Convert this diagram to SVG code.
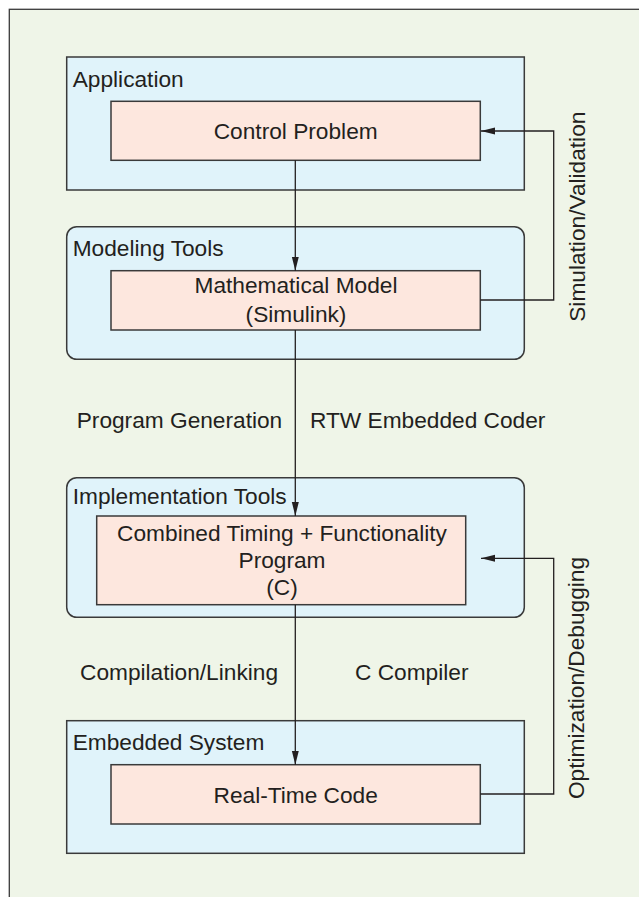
<svg xmlns="http://www.w3.org/2000/svg" width="639" height="897" viewBox="0 0 639 897">
<style>
.frame{fill:#eff5e8;stroke:#3a3a3a;stroke-width:1.3}
.outer{fill:#e0f3fa;stroke:#3a3a3a;stroke-width:1.5}
.inner{fill:#fde7de;stroke:#3a3a3a;stroke-width:1.5}
.t{font-family:"Liberation Sans",Arial,Helvetica,sans-serif;font-size:22.7px;fill:#231f20}
.c{text-anchor:middle}
.conn{fill:none;stroke:#231f20;stroke-width:1.3}
</style>
<defs>
<marker id="ah" markerUnits="userSpaceOnUse" markerWidth="14" markerHeight="8" refX="14" refY="4" orient="auto">
<path d="M0,0.5 L14,4 L0,7.5 z" fill="#231f20"/>
</marker>
</defs>
<rect x="0" y="0" width="639" height="897" fill="#ffffff"/>
<rect class="frame" x="9.3" y="9.3" width="640" height="900"/>

<g id="application">
<rect class="outer" x="66.7" y="57" width="457.6" height="133"/>
<text class="t" x="72.7" y="86.7">Application</text>
</g>
<g id="control-problem">
<rect class="inner" x="111" y="101.3" width="369.3" height="59"/>
<text class="t c" x="295.7" y="139">Control Problem</text>
</g>

<g id="modeling-tools">
<rect class="outer" x="66.7" y="226.7" width="457.6" height="132.6" rx="10" ry="10"/>
<text class="t" x="72.7" y="256">Modeling Tools</text>
</g>
<g id="mathematical-model">
<rect class="inner" x="111" y="270.7" width="369.3" height="59.3"/>
<text class="t c" x="296" y="293.3">Mathematical Model</text>
<text class="t c" x="296" y="321.7">(Simulink)</text>
</g>

<g id="implementation-tools">
<rect class="outer" x="66.7" y="477.7" width="457.6" height="139.6" rx="10" ry="10"/>
<text class="t" x="72.7" y="504">Implementation Tools</text>
</g>
<g id="combined-program">
<rect class="inner" x="96.7" y="516" width="369" height="88.7"/>
<text class="t c" x="282" y="540.7">Combined Timing + Functionality</text>
<text class="t c" x="282" y="568.3">Program</text>
<text class="t c" x="282" y="595">(C)</text>
</g>

<g id="embedded-system">
<rect class="outer" x="66.7" y="720.7" width="457.6" height="132.6"/>
<text class="t" x="72.7" y="750">Embedded System</text>
</g>
<g id="real-time-code">
<rect class="inner" x="111" y="764.7" width="369.3" height="59.3"/>
<text class="t c" x="295.7" y="803.3">Real-Time Code</text>
</g>

<g id="connectors">
<path class="conn" d="M295.3,160.3 V270.7" marker-end="url(#ah)"/>
<path class="conn" d="M295.3,330 V516" marker-end="url(#ah)"/>
<path class="conn" d="M295.3,604.7 V764.7" marker-end="url(#ah)"/>
<path class="conn" d="M480.3,300 H553.7 V131 H481" marker-end="url(#ah)"/>
<path class="conn" d="M480.3,794 H553.7 V558.3 H481" marker-end="url(#ah)"/>
</g>

<g id="labels">
<text class="t" x="76.7" y="428.3">Program Generation</text>
<text class="t" x="310" y="428.3">RTW Embedded Coder</text>
<text class="t" x="80" y="680">Compilation/Linking</text>
<text class="t" x="355" y="680">C Compiler</text>
<text class="t c" transform="translate(585,216.7) rotate(-90)">Simulation/Validation</text>
<text class="t c" transform="translate(584,678) rotate(-90)">Optimization/Debugging</text>
</g>
</svg>
